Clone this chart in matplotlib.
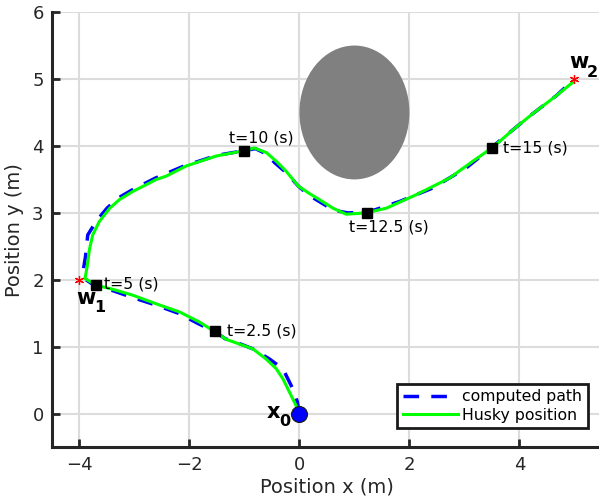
import matplotlib.pyplot as plt
from matplotlib.patches import Ellipse

# Husky trajectory (green)
husky_x = [0.0, -0.03, -0.18, -0.30, -0.42, -0.61, -0.85, -1.09, -1.33, -1.53,
           -1.82, -2.18, -2.6, -3.03, -3.4, -3.7, -3.9, -3.86, -3.82, -3.76,
           -3.64, -3.45, -3.27, -3.03, -2.6, -2.42, -2.06, -1.51, -1.0, -0.82,
           -0.6, -0.42, -0.24, -0.02, 0.18, 0.36, 0.61, 0.85, 1.21, 1.58,
           2.12, 2.73, 3.15, 3.5, 3.94, 4.24, 4.67, 4.97]
husky_y = [0.0, 0.07, 0.32, 0.52, 0.67, 0.82, 0.97, 1.04, 1.11, 1.22,
           1.37, 1.52, 1.64, 1.77, 1.86, 1.92, 2.02, 2.2, 2.45, 2.67,
           2.87, 3.07, 3.2, 3.32, 3.5, 3.55, 3.7, 3.85, 3.93, 3.97,
           3.9, 3.77, 3.62, 3.4, 3.29, 3.2, 3.07, 2.98, 3.0, 3.07,
           3.27, 3.52, 3.77, 3.97, 4.28, 4.48, 4.75, 4.95]

# computed path (blue dashed)
path_x = [0.0, -0.04, -0.12, -0.30, -0.55, -0.85, -1.1, -1.35, -1.53, -1.85,
          -2.2, -2.6, -3.05, -3.4, -3.7, -3.88, -3.93, -3.89, -3.85, -3.7,
          -3.5, -3.3, -3.05, -2.62, -2.1, -1.5, -1.0, -0.8, -0.6, -0.45,
          -0.24, -0.02, 0.18, 0.4, 0.62, 0.88, 1.22, 1.39, 1.82, 2.42,
          3.03, 3.5, 3.94, 4.24, 4.67, 5.0]
path_y = [0.0, 0.18, 0.37, 0.67, 0.82, 0.97, 1.05, 1.12, 1.22, 1.35,
          1.5, 1.62, 1.74, 1.84, 1.9, 2.0, 2.15, 2.35, 2.67, 2.87,
          3.07, 3.22, 3.34, 3.52, 3.7, 3.86, 3.93, 3.96, 3.88, 3.75,
          3.6, 3.4, 3.26, 3.15, 3.04, 3.0, 3.01, 3.05, 3.17, 3.37,
          3.67, 3.98, 4.28, 4.48, 4.75, 5.0]

# time stamps along the path
stamp_x = [-1.53, -3.7, -1.0, 1.22, 3.5]
stamp_y = [1.23, 1.92, 3.92, 3.0, 3.97]
stamp_labels = ['t=2.5 (s)', 't=5 (s)', 't=10 (s)', 't=12.5 (s)', 't=15 (s)']

waypoint_x = [-4, 5]
waypoint_y = [2, 5]

obstacle_center = (1.0, 4.5)
obstacle_radius = 1.0

# point labels: letter, subscript, letter position, subscript position
point_labels = [('w', '1', (-4.06, 1.73), (-3.73, 1.58)),
                ('w', '2', (4.9, 5.25), (5.23, 5.10)),
                ('x', '0', (-0.59, 0.03), (-0.37, -0.12))]

dark = '#262626'

fig = plt.figure(figsize=(5.99, 5.03), dpi=100)
ax = fig.add_axes([0.0868, 0.111, 0.918, 0.865])

ax.add_patch(Ellipse(obstacle_center, 2 * obstacle_radius, 2 * obstacle_radius,
                     facecolor='#808080', edgecolor='none', zorder=2))

ax.plot(path_x, path_y, color='blue', lw=2.5, ls=(0, (4.5, 3.5)),
        label='computed path', zorder=3)
ax.plot(husky_x, husky_y, color='#00ff00', lw=2.2, label='Husky position', zorder=4)

ax.plot(stamp_x, stamp_y, 's', color='black', ms=6.5, zorder=5)
ax.plot(waypoint_x, waypoint_y, ls='none', marker=(6, 2, 0), color='red',
        ms=6.5, mew=0.9, zorder=5)
ax.plot([0], [0], 'o', color='blue', mec='#1a1a1a', mew=0.8, ms=11.5, zorder=6)

# time stamp annotations
offsets = [(0.22, 0.0), (0.15, 0.02), (-0.28, 0.2), (-0.31, -0.21), (0.2, 0.0)]
for x, y, s, (dx, dy) in zip(stamp_x, stamp_y, stamp_labels, offsets):
    ax.text(x + dx, y + dy, s, fontsize=11.3, ha='left', va='center',
            color='black', zorder=7)

for letter, sub, (lx, ly), (sx, sy) in point_labels:
    ax.text(lx, ly, letter, fontsize=15, fontweight='bold', ha='left', va='center')
    ax.text(sx, sy, sub, fontsize=11.5, fontweight='bold', ha='left', va='center')

ax.set_xlim(-4.5, 5.5)
ax.set_ylim(-0.5, 6)
ax.set_xticks([-4, -2, 0, 2, 4])
ax.set_yticks([0, 1, 2, 3, 4, 5, 6])
ax.grid(True, color='#dcdcdc', lw=1.5)
ax.set_axisbelow(True)

for side in ['top', 'right']:
    ax.spines[side].set_visible(False)
for side in ['left', 'bottom']:
    ax.spines[side].set_linewidth(2.2)
    ax.spines[side].set_color(dark)
ax.tick_params(direction='in', length=5.5, width=2, color=dark,
               labelsize=13, labelcolor=dark, pad=6)

ax.set_xlabel('Position x (m)', fontsize=14, color=dark, labelpad=3)
ax.set_ylabel('Position y (m)', fontsize=14, color=dark, labelpad=6)

leg = ax.legend(loc='lower right', bbox_to_anchor=(0.9745, 0.044), fontsize=11.3,
                fancybox=False, framealpha=1, edgecolor='#1a1a1a',
                handlelength=3.5, borderpad=0.35, labelspacing=0.2,
                handletextpad=0.3, borderaxespad=0)
leg.get_frame().set_linewidth(2)

fig.savefig('out.png', dpi=100)
